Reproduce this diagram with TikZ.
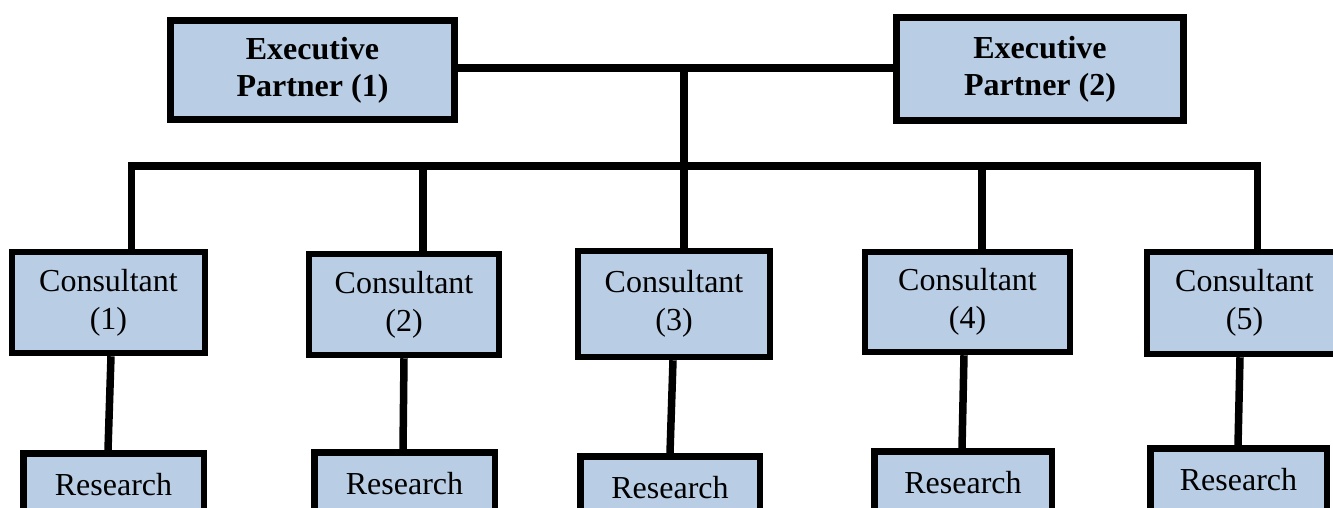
\documentclass[tikz,border=0pt]{standalone}
\usepackage{fontspec}
\setmainfont{Liberation Serif}
\definecolor{boxblue}{HTML}{B9CDE5}
\begin{document}
\begin{tikzpicture}[x=1pt,y=-1pt,
  box/.style={draw=black, fill=boxblue, line width=6.5pt, inner sep=0pt, align=center, font=\fontsize{32}{38}\selectfont},
  exec/.style={box, line width=7pt, font=\fontsize{32}{37}\selectfont\bfseries},
  cons/.style={box, minimum height=101pt},
  res/.style={box, anchor=north, text height=41.75pt, text depth=70pt},
  conn/.style={line width=7.5pt, line join=miter}]
\clip (0,0) rectangle (1333,507);
\fill[white] (0,0) rectangle (1333,507);
% executive partners
\node[exec, minimum width=284pt, minimum height=99pt] (ep1) at (312.5,70) {Executive\\Partner (1)};
\node[exec, minimum width=287pt, minimum height=103pt] (ep2) at (1040,69) {Executive\\Partner (2)};
% consultants
\node[cons, minimum width=193pt] (c1) at (108.5,302.5) {Consultant\\(1)};
\node[cons, minimum width=190pt] (c2) at (404,304.5) {Consultant\\(2)};
\node[cons, minimum width=192pt, minimum height=106pt] (c3) at (674,304) {Consultant\\(3)};
\node[cons, minimum width=205pt, minimum height=100pt] (c4) at (967.5,302) {Consultant\\(4)};
\node[cons, minimum width=195pt, minimum height=102pt] (c5) at (1244.5,303) {Consultant\\(5)};
% research
\node[res, minimum width=180.5pt] (r1) at (113.5,450) {Research};
\node[res, minimum width=180.5pt] (r2) at (404.5,449) {Research};
\node[res, minimum width=179.5pt] (r3) at (670,453) {Research};
\node[res, minimum width=177.5pt] (r4) at (963,448) {Research};
\node[res, minimum width=176.5pt] (r5) at (1238.5,445) {Research};
% connectors at the top
\coordinate (tj) at (684,68);
\draw[conn] (ep1.east |- tj) -- (ep2.west |- tj);
\draw[conn] (tj) -- (tj |- c3.north);
% bus
\coordinate (bl) at (131.5,166);
\coordinate (br) at (1257.5,166);
\coordinate (b2) at (423,166);
\coordinate (b4) at (982,166);
\draw[conn] (bl |- c1.north) -- (bl) -- (br) -- (br |- c5.north);
\draw[conn] (b2) -- (b2 |- c2.north);
\draw[conn] (b4) -- (b4 |- c4.north);
% consultant to research
\draw[conn] ([xshift=2.5pt]c1.south) -- ([xshift=-5.5pt]r1.north);
\draw[conn] (c2.south) -- ([xshift=-1.5pt]r2.north);
\draw[conn] ([xshift=-1pt]c3.south) -- (r3.north);
\draw[conn] ([xshift=-3.5pt]c4.south) -- ([xshift=-1pt]r4.north);
\draw[conn] ([xshift=-4.5pt]c5.south) -- ([xshift=-0.5pt]r5.north);
\end{tikzpicture}
\end{document}
